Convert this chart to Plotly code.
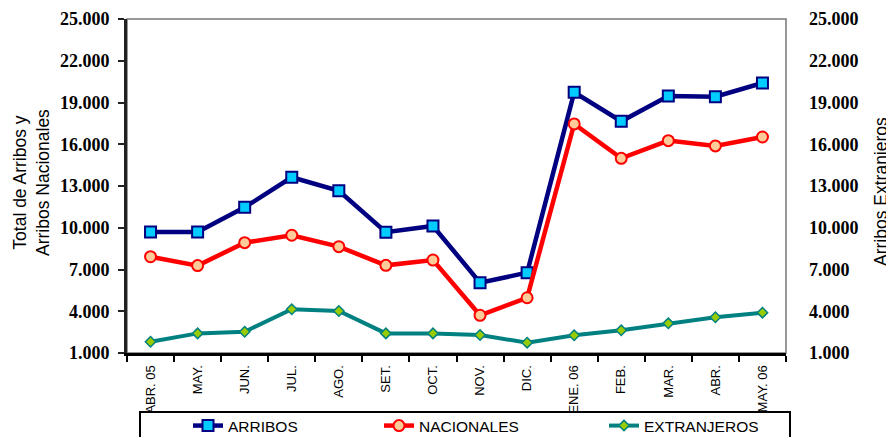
import plotly.graph_objects as go

months = ["ABR. 05", "MAY.", "JUN.", "JUL.", "AGO.", "SET.", "OCT.", "NOV.", "DIC.",
          "ENE. 06", "FEB.", "MAR.", "ABR.", "MAY. 06"]
arribos = [9700, 9700, 11470, 13630, 12660, 9680, 10130, 6050, 6770, 19730, 17650, 19470, 19420, 20400]
nacionales = [7920, 7280, 8930, 9460, 8640, 7300, 7680, 3710, 4970, 17460, 14990, 16260, 15880, 16520]
extranjeros = [1810, 2410, 2530, 4140, 4020, 2410, 2410, 2290, 1740, 2270, 2630, 3130, 3570, 3900]
y_ticks = [1000, 4000, 7000, 10000, 13000, 16000, 19000, 22000, 25000]

# page body has an 8px margin: shrink the figure so it ends at the window edge
OFF = 8
W, H = 894 - OFF, 437 - OFF
L, R, T, B = 127 - OFF, 108, 19 - OFF, 84
pw, ph = W - L - R, H - T - B


def px(x):
    return (x - OFF - L) / pw


def py(y):
    return (H - B - (y - OFF)) / ph


fig = go.Figure()
fig.add_trace(go.Scatter(
    x=months, y=arribos, name="ARRIBOS", mode="lines+markers", showlegend=True,
    line=dict(color="#000080", width=4.5),
    marker=dict(symbol="square", size=11, color="#00CCFF", line=dict(color="#000080", width=2)),
    legend="legend"))
fig.add_trace(go.Scatter(
    x=months, y=nacionales, name="NACIONALES", mode="lines+markers", showlegend=True,
    line=dict(color="#FF0000", width=4.5),
    marker=dict(symbol="circle", size=11, color="#FFCC99", line=dict(color="#FF0000", width=2)),
    legend="legend2"))
fig.add_trace(go.Scatter(
    x=months, y=extranjeros, name="EXTRANJEROS", mode="lines+markers", yaxis="y2", showlegend=True,
    line=dict(color="#008080", width=4),
    marker=dict(symbol="diamond", size=8, color="#99CC00", line=dict(color="#008080", width=1.5)),
    legend="legend3"))

tickfont = dict(family="Liberation Serif, Times New Roman, serif", size=18, color="black", weight="bold")
legfont = dict(family="Liberation Sans, Arial, sans-serif", size=15.5, color="black")

leg_common = dict(orientation="h", xanchor="left", yanchor="middle", y=py(426),
                  bgcolor="rgba(0,0,0,0)", borderwidth=0, font=legfont)

fig.update_layout(
    width=W, height=H,
    margin=dict(l=L, r=R, t=T, b=B, pad=0, autoexpand=False),
    paper_bgcolor="white", plot_bgcolor="white",
    separators=",.",
    showlegend=True,
    xaxis=dict(
        type="category", range=[-0.5, 13.5], tickson="boundaries",
        ticks="outside", ticklen=6, tickwidth=2, tickcolor="black",
        showline=True, linecolor="black", linewidth=3,
        tickangle=-90, ticklabelstandoff=4, automargin=False,
        tickfont=dict(family="Liberation Sans, Arial, sans-serif", size=13, color="black"),
        showgrid=False, zeroline=False),
    yaxis=dict(
        range=[1000, 25000], tickvals=y_ticks, tickformat=",.0f",
        ticks="outside", ticklen=6, tickwidth=2, tickcolor="#222222",
        showline=True, linecolor="#222222", linewidth=3, automargin=False,
        ticklabelstandoff=5, tickfont=tickfont,
        showgrid=False, zeroline=False),
    yaxis2=dict(
        range=[1000, 25000], tickvals=y_ticks, tickformat=",.0f",
        overlaying="y", side="right", ticks="", automargin=False,
        showline=False, ticklabelstandoff=22, tickfont=tickfont,
        showgrid=False, zeroline=False),
    legend=dict(leg_common, x=px(188)),
    legend2=dict(leg_common, x=px(379)),
    legend3=dict(leg_common, x=px(604)),
    shapes=[
        dict(type="rect", xref="paper", yref="paper", x0=0, x1=1, y0=0, y1=1,
             line=dict(color="#777777", width=1.5), layer="below"),
        dict(type="rect", xref="paper", yref="paper", x0=px(140), x1=px(790),
             y0=py(450), y1=py(412), fillcolor="white",
             line=dict(color="black", width=2), layer="above"),
    ],
    annotations=[
        dict(text="Total de Arribos y<br>Arribos Nacionales", xref="paper", yref="paper",
             x=px(31), y=py(183), xanchor="center", yanchor="middle", textangle=-90,
             showarrow=False,
             font=dict(family="Liberation Sans, Arial, sans-serif", size=17.5, color="black")),
        dict(text="Arribos Extranjeros", xref="paper", yref="paper",
             x=px(881), y=py(192), xanchor="center", yanchor="middle", textangle=-90,
             showarrow=False,
             font=dict(family="Liberation Sans, Arial, sans-serif", size=17.5, color="black")),
    ],
)

fig.write_html("out.html")
